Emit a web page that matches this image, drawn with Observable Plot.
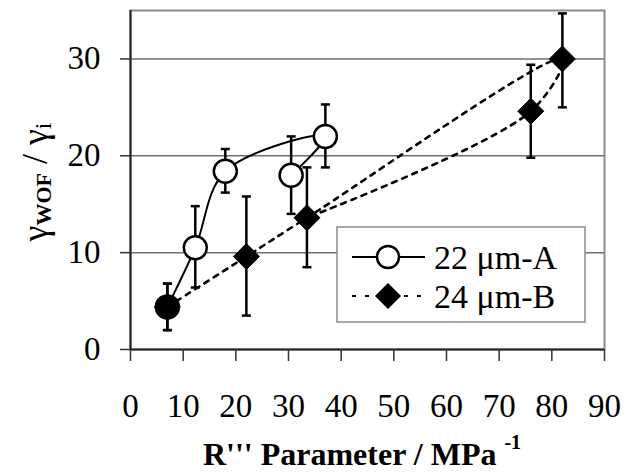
<!DOCTYPE html>
<html>
<head>
<meta charset="utf-8">
<script src="https://cdn.jsdelivr.net/npm/d3@7"></script>
<script src="https://cdn.jsdelivr.net/npm/@observablehq/plot@0.6"></script>
</head>
<body style="margin:0;background:white">
<div id="chart"></div>
<script>
// ---- data ----
const seriesNames = ["22 μm-A", "24 μm-B"];

// series A (open circles, solid smoothed line)
const aX    = [7,   12.3, 18,   30.5, 37];
const aY    = [4.4, 10.5, 18.4, 18,   22];
const aLow  = [2,   6.4,  16.2, 14,   18.8];
const aHigh = [6.8, 14.8, 20.7, 22,   25.3];
const aLineOrder = [0, 1, 2, 4, 3];   // order the spreadsheet joined the points

// series B (filled diamonds, dotted smoothed line)
const bX    = [7,   22,  33.5, 76,   82];
const bY    = [4.4, 9.6, 13.6, 24.6, 30];
const bLow  = [2,   3.5, 8.5,  19.8, 25];
const bHigh = [6.8, 15.8, 18.8, 29.4, 34.7];
const bLineOrder = [0, 1, 2, 4, 3, 2];

const xTicks = [0, 10, 20, 30, 40, 50, 60, 70, 80, 90];
const yTicks = [0, 10, 20, 30];
const gridY  = [10, 20, 30];

// ---- tables ----
const A = aX.map((x, i) => ({x, y: aY[i], lo: aLow[i], hi: aHigh[i]}));
const B = bX.map((x, i) => ({x, y: bY[i], lo: bLow[i], hi: bHigh[i]}));
const aLine = aLineOrder.map(i => A[i]);
const bLine = bLineOrder.map(i => B[i]);

// custom symbols (pixel sized)
const capSymbol = {draw(ctx, size) { const r = 4.5; ctx.moveTo(-r, 0); ctx.lineTo(r, 0); }};
const diamondSymbol = {draw(ctx, size) { const r = 13; ctx.moveTo(0, -r); ctx.lineTo(r, 0); ctx.lineTo(0, r); ctx.lineTo(-r, 0); ctx.closePath(); }};

const sameAsB = d => B.some(b => b.x === d.x && b.y === d.y);

const errMarks = (data) => [
  Plot.ruleX(data, {x: "x", y1: "lo", y2: "hi", stroke: "black", strokeWidth: 2.5}),
  Plot.dot(data, {x: "x", y: "lo", symbol: capSymbol, r: 5, stroke: "black", strokeWidth: 2.5, fill: "none"}),
  Plot.dot(data, {x: "x", y: "hi", symbol: capSymbol, r: 5, stroke: "black", strokeWidth: 2.5, fill: "none"})
];

const FONT = "'Liberation Serif', 'Times New Roman', serif";

const chart = Plot.plot({
  width: 631, height: 473,
  marginLeft: 130, marginRight: 27, marginTop: 10, marginBottom: 124,
  style: {fontFamily: "Liberation Serif", fontSize: "33px"},
  x: {domain: [0, 90]},
  y: {domain: [0, 35]},
  marks: [
    Plot.ruleY(gridY, {stroke: "#6e6e6e", strokeWidth: 1.5}),
    Plot.frame({stroke: "#8c8c8c", strokeWidth: 2}),
    Plot.ruleX([0], {stroke: "#222", strokeWidth: 2}),
    Plot.ruleY([0], {stroke: "#222", strokeWidth: 2}),
    Plot.axisX({ticks: xTicks, tickSize: 12, tickPadding: 32, fontSize: 33, label: null, strokeWidth: 1.5, stroke: "#333"}),
    Plot.axisY({ticks: yTicks, tickSize: 10, tickPadding: 20, fontSize: 33, label: null, strokeWidth: 1.5, stroke: "#333"}),
    Plot.line(bLine, {x: "x", y: "y", curve: "catmull-rom", stroke: "black", strokeWidth: 2.6, strokeDasharray: "5,6"}),
    Plot.line(aLine, {x: "x", y: "y", curve: "catmull-rom", stroke: "black", strokeWidth: 2}),
    ...errMarks(A),
    ...errMarks(B),
    Plot.dot(A, {x: "x", y: "y", r: 11.5, fill: d => sameAsB(d) ? "black" : "white", stroke: "black", strokeWidth: 2.5}),
    Plot.dot(B, {x: "x", y: "y", symbol: diamondSymbol, r: 13, fill: "black", stroke: "black", strokeWidth: 1})
  ]
});

const svg = d3.select(chart);

// ---- legend (inside plot) ----
const lg = svg.append("g").attr("text-anchor", "start");
lg.append("rect").attr("x", 337).attr("y", 227).attr("width", 248).attr("height", 95)
  .attr("fill", "white").attr("stroke", "#8c8c8c").attr("stroke-width", 1.5);
const rows = [
  {name: seriesNames[0], y: 257, dash: null, sym: "circle"},
  {name: seriesNames[1], y: 296, dash: "4,9", sym: "diamond"}
];
rows.forEach(r => {
  lg.append("line").attr("x1", 352).attr("x2", 425).attr("y1", r.y).attr("y2", r.y)
    .attr("stroke", "black").attr("stroke-width", r.dash ? 2 : 2.2)
    .attr("stroke-dasharray", r.dash);
  if (r.sym === "circle") {
    lg.append("circle").attr("cx", 388).attr("cy", r.y).attr("r", 11)
      .attr("fill", "white").attr("stroke", "black").attr("stroke-width", 2.5);
  } else {
    lg.append("path").attr("d", `M388,${r.y-13}L401,${r.y}L388,${r.y+13}L375,${r.y}Z`).attr("fill", "black");
  }
  lg.append("text").attr("x", 434).attr("y", r.y).attr("dy", "0.34em")
    .attr("font-size", 34).attr("fill", "black").text(r.name);
});

// ---- y axis title with subscripts ----
const yt = svg.append("text")
  .attr("transform", "translate(47,182) rotate(-90)")
  .attr("text-anchor", "middle")
  .attr("font-size", 36).attr("fill", "black");
yt.append("tspan").text("γ");
yt.append("tspan").attr("font-size", 22).attr("font-weight", "bold").attr("dy", 4).text("WOF");
yt.append("tspan").attr("dy", -4).text(" / γ");
yt.append("tspan").attr("font-size", 24).attr("dy", 4).text("i");

// ---- x axis title ----
const xt = svg.append("text")
  .attr("x", 362).attr("y", 465).attr("text-anchor", "middle")
  .attr("font-size", 32).attr("font-weight", "bold").attr("fill", "black");
xt.append("tspan").text("R''' Parameter / MPa ");
xt.append("tspan").attr("font-size", 20).attr("dy", -16).text("-1");

// force the serif face on every text node
chart.style.setProperty("font-family", FONT, "important");
chart.querySelectorAll("text, tspan").forEach(el => el.style.setProperty("font-family", FONT, "important"));

document.getElementById("chart").appendChild(chart);
</script>
</body>
</html>
